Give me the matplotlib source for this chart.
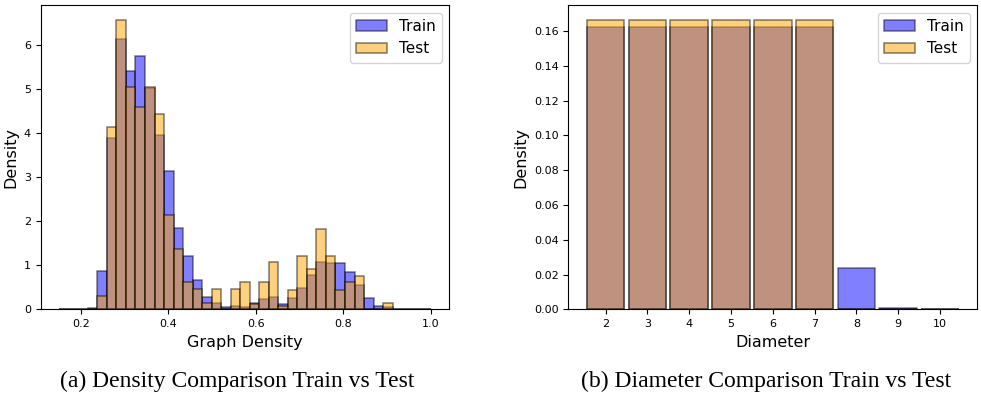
import numpy as np
import matplotlib
matplotlib.use("Agg")
import matplotlib.pyplot as plt

# Graph density histogram (39 shared bins between 0.151 and 1.0)
density_edges = np.linspace(0.151, 1.0, 40)
train_density = [0, 0, 0, 0.04, 0.88, 3.90, 6.13, 5.41, 5.74, 5.03,
                 3.95, 3.13, 1.85, 1.21, 0.67, 0.27, 0.14, 0.05, 0.08, 0.05,
                 0.14, 0.23, 0.27, 0.13, 0.25, 0.48, 0.78, 1.08, 1.04, 1.04,
                 0.84, 0.55, 0.25, 0.08, 0.05, 0.01, 0, 0, 0]
test_density = [0, 0, 0, 0, 0.30, 4.13, 6.58, 5.05, 4.59, 5.05,
                4.43, 2.13, 1.36, 0.61, 0.45, 0.14, 0.45, 0, 0.45, 0.61,
                0.12, 0.61, 1.07, 0.07, 0.44, 1.21, 0.91, 1.83, 1.21, 0.44,
                0.61, 0.76, 0, 0, 0.14, 0, 0, 0, 0]

# Diameter distribution
diameters = [2, 3, 4, 5, 6, 7, 8, 9, 10]
train_diam = [0.1625, 0.1625, 0.1625, 0.1625, 0.1625, 0.1625, 0.024, 0.001, 0.0003]
test_diam = [1 / 6, 1 / 6, 1 / 6, 1 / 6, 1 / 6, 1 / 6, 0, 0, 0]

fig = plt.figure(figsize=(9.81, 3.98), dpi=100)
ax1 = fig.add_axes([0.0415, 0.2229, 0.4165, 0.7645])
ax2 = fig.add_axes([0.5793, 0.2229, 0.4169, 0.7645])

# left: graph density
centers = (density_edges[:-1] + density_edges[1:]) / 2
ax1.hist(centers, bins=density_edges, weights=train_density, color='blue',
         alpha=0.5, edgecolor='black', linewidth=1.1, label='Train')
ax1.hist(centers, bins=density_edges, weights=test_density, color='orange',
         alpha=0.5, edgecolor='black', linewidth=1.1, label='Test')
ax1.set_xlabel('Graph Density', fontsize=11.5)
ax1.set_ylabel('Density', fontsize=11.5)
ax1.tick_params(labelsize=8)
ax1.legend(fontsize=11)

# right: diameter
diam_bins = np.arange(1.5, 11.5, 1)
ax2.hist(diameters, bins=diam_bins, weights=train_diam, color='blue',
         alpha=0.5, edgecolor='black', linewidth=1.1, rwidth=0.9, label='Train')
ax2.hist(diameters, bins=diam_bins, weights=test_diam, color='orange',
         alpha=0.5, edgecolor='black', linewidth=1.1, rwidth=0.9, label='Test')
ax2.set_xticks(diameters)
ax2.set_xlabel('Diameter', fontsize=11.5)
ax2.set_ylabel('Density', fontsize=11.5)
ax2.tick_params(labelsize=8)
ax2.legend(fontsize=11)

# captions under each panel
fig.text(0.242, 0.041, '(a) Density Comparison Train vs Test', ha='center',
         va='center', fontsize=17, family='Liberation Serif')
fig.text(0.781, 0.041, '(b) Diameter Comparison Train vs Test', ha='center',
         va='center', fontsize=17, family='Liberation Serif')

fig.savefig('out.png', dpi=100)
